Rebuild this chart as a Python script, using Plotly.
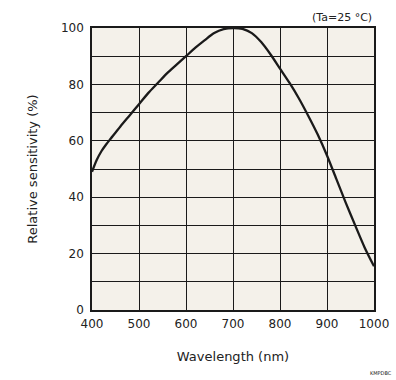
import plotly.graph_objects as go

wavelength_nm = [400, 410, 420, 430, 440, 460, 480, 500, 520, 540, 560, 580, 600, 620, 640, 660, 680,
                 700, 720, 740, 760, 780, 800, 820, 840, 860, 880, 900, 920, 940, 960, 980, 1000]
sensitivity_pct = [49, 53.2, 56.3, 58.7, 60.8, 65, 69, 73, 77, 80.5, 84, 87, 90, 93, 95.7, 98.2, 99.6,
                   100, 99.7, 98.2, 95.0, 90.6, 85.6, 80.6, 75.1, 68.9, 62.3, 54.8, 46.4, 38, 30, 22.2, 15.5]

x_ticks = [400, 500, 600, 700, 800, 900, 1000]
y_ticks = [0, 20, 40, 60, 80, 100]

FONT = "DejaVu Sans"
TXT = "#222222"
GRID = "#1a1a1a"

fig = go.Figure()
fig.add_trace(go.Scatter(
    x=wavelength_nm, y=sensitivity_pct, mode="lines",
    line=dict(color="#1a1a1a", width=2.3, shape="spline", smoothing=0.8),
    hoverinfo="skip", showlegend=False,
))

fig.update_layout(
    width=396, height=380,
    margin=dict(l=92, r=22, t=28, b=70, autoexpand=False),
    paper_bgcolor="white",
    plot_bgcolor="#f4f1ea",
    font=dict(family=FONT, size=12, color=TXT),
    showlegend=False,
)

fig.update_xaxes(
    range=[400, 1000], tickvals=x_ticks, ticktext=[str(v) for v in x_ticks],
    showgrid=True, gridcolor=GRID, gridwidth=1.2,
    showline=True, linecolor=GRID, linewidth=1.5, mirror=True,
    zeroline=False, ticks="", ticklabelstandoff=2, automargin=False,
    tickfont=dict(family=FONT, size=12, color=TXT),
    title=dict(text="Wavelength (nm)", font=dict(family=FONT, size=13, color=TXT), standoff=22),
)
fig.update_yaxes(
    range=[0, 100], tickvals=y_ticks, ticktext=[str(v) for v in y_ticks],
    showgrid=True, gridcolor=GRID, gridwidth=1.2,
    minor=dict(dtick=10, tick0=0, showgrid=True, gridcolor=GRID, gridwidth=1.2),
    showline=True, linecolor=GRID, linewidth=1.5, mirror=True,
    zeroline=False, ticks="", ticklabelstandoff=4, automargin=False,
    tickfont=dict(family=FONT, size=12, color=TXT),
    title=dict(text="Relative sensitivity (%)", font=dict(family=FONT, size=13, color=TXT), standoff=20),
)

fig.add_annotation(
    text="(Ta=25 °C)", xref="paper", yref="paper", x=1.0, y=1.0,
    xanchor="right", yanchor="bottom", yshift=2, showarrow=False,
    font=dict(family=FONT, size=11, color=TXT),
)
fig.add_annotation(
    text="KMPDBC", xref="paper", yref="paper", x=1.07, y=-0.225,
    xanchor="right", yanchor="middle", showarrow=False,
    font=dict(family=FONT, size=5, color=TXT),
)

fig.write_html(
    "out.html",
    config={"displayModeBar": False, "responsive": False},
    post_script="document.body.style.margin='0';document.body.style.overflow='hidden';",
)
